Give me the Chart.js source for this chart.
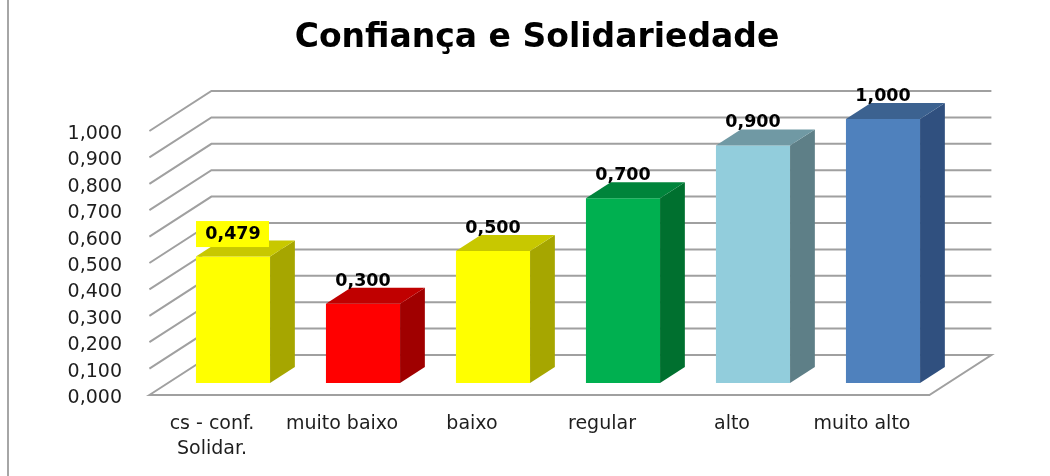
<!DOCTYPE html>
<html>
<head>
<meta charset="utf-8">
<script src="https://cdn.jsdelivr.net/npm/chart.js@4.4.1/dist/chart.umd.min.js"></script>
<style>
  html, body { margin: 0; padding: 0; background: #fff; }
  #wrap { width: 1050px; height: 476px; }
</style>
</head>
<body>
<div id="wrap"><canvas id="chart" width="1050" height="476"></canvas></div>
<script>
// Data
const title = 'Confiança e Solidariedade';
const categories = [['cs - conf.', 'Solidar.'], 'muito baixo', 'baixo', 'regular', 'alto', 'muito alto'];
const values = [0.479, 0.300, 0.500, 0.700, 0.900, 1.000];
const yTickValues = [0, 0.1, 0.2, 0.3, 0.4, 0.5, 0.6, 0.7, 0.8, 0.9, 1.0];

// Bar colours: front, side, top faces
const frontColors = ['#ffff00', '#ff0000', '#ffff00', '#00b050', '#92cddc', '#4f81bd'];
const sideColors  = ['#a6a600', '#a00000', '#a6a600', '#00702f', '#5e7f87', '#30507f'];
const topColors   = ['#c8c800', '#c00000', '#c8c800', '#00843b', '#7099a4', '#3c6290'];
const labelBacks  = ['#ffff00', null, null, null, null, null];

// 3D look: depth vector of the floor, bars sit at 30% of it
const depth = { dx: 62, dy: -40 };
const barFront = 0.3;
const barDepth = 0.4;
const gridColor = '#a0a0a0';
const fontFamily = '"DejaVu Sans", sans-serif';

const fmt = v => v.toFixed(3).replace('.', ',');

const chart3d = {
    id: 'chart3d',
    beforeDraw(chart) {
        const ctx = chart.ctx;
        ctx.save();
        // frame line on the left
        ctx.strokeStyle = '#a6a6a6';
        ctx.lineWidth = 2;
        ctx.beginPath();
        ctx.moveTo(8, 0);
        ctx.lineTo(8, chart.height);
        ctx.stroke();
        // title
        ctx.fillStyle = '#000';
        ctx.font = 'bold 33px ' + fontFamily;
        ctx.textAlign = 'center';
        ctx.textBaseline = 'alphabetic';
        ctx.fillText(title, 537, 47);
        ctx.restore();
    },
    beforeDatasetsDraw(chart) {
        const { ctx, chartArea: a, scales: { y } } = chart;
        const fx = -barFront * depth.dx, fy = -barFront * depth.dy;
        const bx = (1 - barFront) * depth.dx, by = (1 - barFront) * depth.dy;
        ctx.save();
        ctx.strokeStyle = gridColor;
        ctx.lineWidth = 2;
        y.ticks.forEach(t => {
            const py = y.getPixelForValue(t.value);
            ctx.beginPath();
            ctx.moveTo(a.left + fx, py + fy);
            ctx.lineTo(a.left + bx, py + by);
            ctx.lineTo(a.right + bx, py + by);
            if (t.value === 0) {
                ctx.lineTo(a.right + fx, py + fy);
                ctx.closePath();
            }
            ctx.stroke();
        });
        ctx.restore();
    },
    afterDatasetsDraw(chart) {
        const ctx = chart.ctx;
        const meta = chart.getDatasetMeta(0);
        const dx = barDepth * depth.dx, dy = barDepth * depth.dy;
        ctx.save();
        meta.data.forEach((bar, i) => {
            const { x, y, width, base } = bar.getProps(['x', 'y', 'width', 'base'], true);
            const l = x - width / 2, r = x + width / 2;
            // side face
            ctx.fillStyle = sideColors[i];
            ctx.beginPath();
            ctx.moveTo(r, y);
            ctx.lineTo(r + dx, y + dy);
            ctx.lineTo(r + dx, base + dy);
            ctx.lineTo(r, base);
            ctx.closePath();
            ctx.fill();
            // top face
            ctx.fillStyle = topColors[i];
            ctx.beginPath();
            ctx.moveTo(l, y);
            ctx.lineTo(l + dx, y + dy);
            ctx.lineTo(r + dx, y + dy);
            ctx.lineTo(r, y);
            ctx.closePath();
            ctx.fill();
        });
        // value labels
        ctx.font = 'bold 17.5px ' + fontFamily;
        ctx.textAlign = 'center';
        ctx.textBaseline = 'middle';
        meta.data.forEach((bar, i) => {
            const { x, y } = bar.getProps(['x', 'y'], true);
            const ly = y - 22.5;
            if (labelBacks[i]) {
                ctx.fillStyle = labelBacks[i];
                ctx.fillRect(x - 37, ly - 13, 73, 26);
            }
            ctx.fillStyle = '#000';
            ctx.fillText(fmt(values[i]), x, ly);
        });
        ctx.restore();
    }
};

new Chart(document.getElementById('chart').getContext('2d'), {
    type: 'bar',
    data: {
        labels: categories,
        datasets: [{
            data: values,
            backgroundColor: frontColors,
            borderWidth: 0,
            barPercentage: 0.57,
            categoryPercentage: 1.0
        }]
    },
    options: {
        responsive: false,
        animation: false,
        layout: { padding: { left: 68, right: 102, top: 119, bottom: 0 } },
        plugins: {
            legend: { display: false },
            tooltip: { enabled: false },
            title: { display: false }
        },
        scales: {
            x: {
                grid: { display: false, drawTicks: false },
                border: { display: false },
                afterFit: s => { s.height = 93; },
                ticks: {
                    color: '#1e1e1e',
                    font: { family: fontFamily, size: 19, lineHeight: 25 / 19 },
                    padding: 28.5,
                    labelOffset: -21,
                    maxRotation: 0,
                    autoSkip: false
                }
            },
            y: {
                min: 0,
                max: 1,
                grid: { display: false, drawTicks: false },
                border: { display: false },
                afterFit: s => { s.width = 100; },
                afterBuildTicks: s => { s.ticks = yTickValues.map(v => ({ value: v })); },
                ticks: {
                    color: '#1e1e1e',
                    font: { family: fontFamily, size: 19 },
                    padding: 46,
                    labelOffset: 15,
                    callback: v => fmt(v)
                }
            }
        }
    },
    plugins: [chart3d]
});
</script>
</body>
</html>
